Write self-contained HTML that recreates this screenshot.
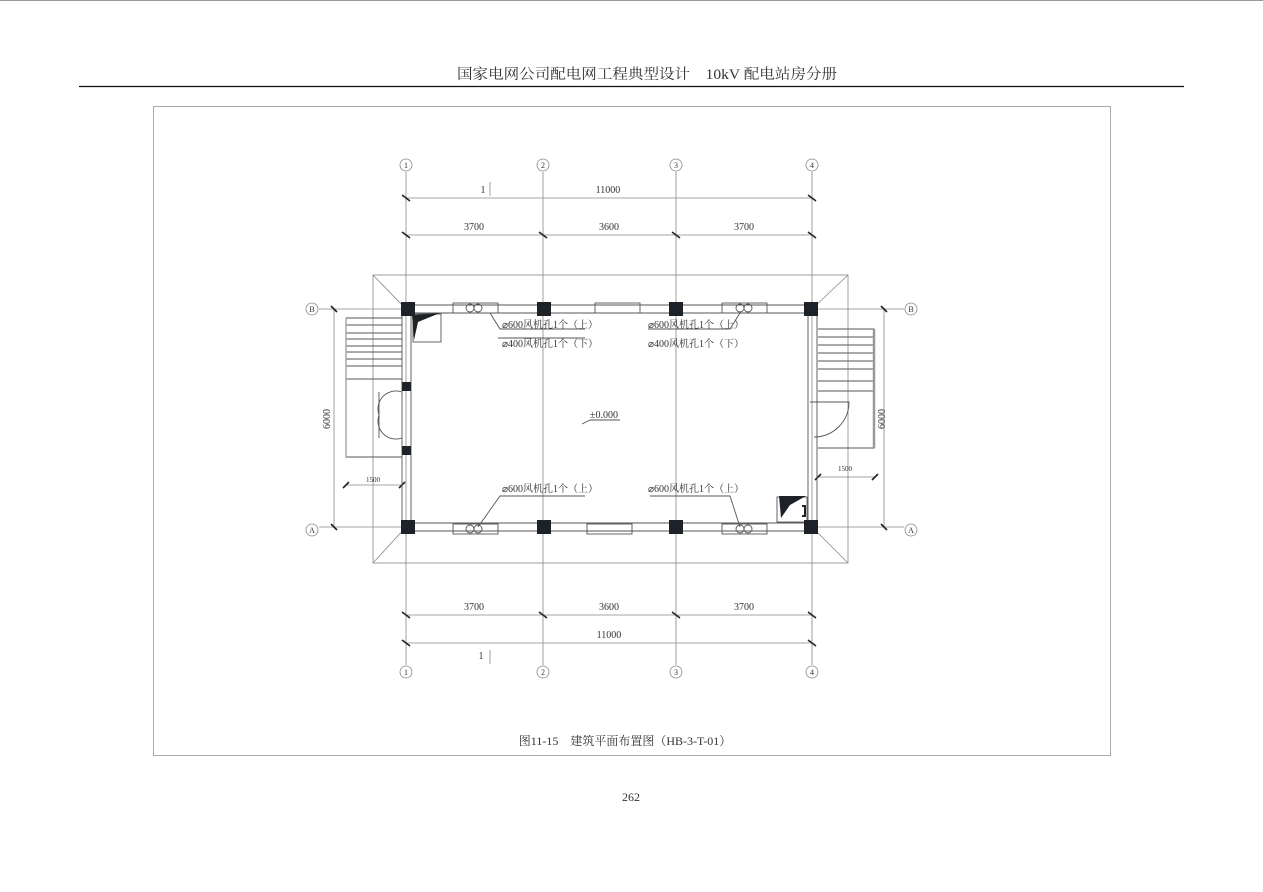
<!DOCTYPE html>
<html><head><meta charset="utf-8"><style>
html,body{margin:0;padding:0;background:#fff;}
svg{display:block;}
text{font-family:"Liberation Serif","Noto Serif CJK SC",serif;fill:#333;}
.s{font-family:"Liberation Sans Narrow","Liberation Sans","Noto Sans CJK SC",sans-serif;}
</style></head><body>
<svg width="1263" height="892" viewBox="0 0 1263 892" xmlns="http://www.w3.org/2000/svg">
<rect width="1263" height="892" fill="#fff"/>
<line x1="0" y1="0.5" x2="1263" y2="0.5" stroke="#999" stroke-width="1"/>
<text x="647" y="79" font-size="14.5" text-anchor="middle" textLength="380" lengthAdjust="spacingAndGlyphs">国家电网公司配电网工程典型设计　10kV 配电站房分册</text>
<line x1="79" y1="86.5" x2="1184" y2="86.5" stroke="#111" stroke-width="1.3"/>
<rect x="153.5" y="106.5" width="957" height="649" fill="none" stroke="#aaa" stroke-width="1"/>

<g stroke="#888" stroke-width="0.8" fill="none">
<line x1="406" y1="172" x2="406" y2="665"/>
<line x1="543" y1="172" x2="543" y2="665"/>
<line x1="676" y1="172" x2="676" y2="665"/>
<line x1="812" y1="172" x2="812" y2="665"/>
<line x1="319" y1="309" x2="402" y2="309"/>
<line x1="817" y1="309" x2="904" y2="309"/>
<line x1="319" y1="527" x2="402" y2="527"/>
<line x1="817" y1="527" x2="904" y2="527"/>
<circle cx="406" cy="165" r="6"/><circle cx="543" cy="165" r="6"/><circle cx="676" cy="165" r="6"/><circle cx="812" cy="165" r="6"/>
<circle cx="406" cy="672" r="6"/><circle cx="543" cy="672" r="6"/><circle cx="676" cy="672" r="6"/><circle cx="812" cy="672" r="6"/>
<circle cx="312" cy="309" r="6"/><circle cx="911" cy="309" r="6"/><circle cx="312" cy="530" r="6"/><circle cx="911" cy="530" r="6"/>
<line x1="406" y1="198" x2="812" y2="198"/>
<line x1="406" y1="235" x2="812" y2="235"/>
<line x1="406" y1="615" x2="812" y2="615"/>
<line x1="406" y1="643" x2="812" y2="643"/>
<polyline points="490,182 490,196"/><polyline points="490,650 490,664"/>
<rect x="373" y="275" width="475" height="288"/>
<line x1="373" y1="275" x2="406" y2="309"/><line x1="848" y1="275" x2="812" y2="309"/>
<line x1="373" y1="563" x2="406" y2="527"/><line x1="848" y1="563" x2="812" y2="527"/>
<line x1="334" y1="309" x2="334" y2="527"/>
<line x1="346" y1="485" x2="402" y2="485"/>
<line x1="884" y1="309" x2="884" y2="527"/>
<line x1="818" y1="477" x2="875" y2="477"/>
</g>
<g font-size="8" text-anchor="middle" class="s">
<text x="406" y="168">1</text><text x="543" y="168">2</text><text x="676" y="168">3</text><text x="812" y="168">4</text>
<text x="406" y="675">1</text><text x="543" y="675">2</text><text x="676" y="675">3</text><text x="812" y="675">4</text>
<text x="312" y="312">B</text><text x="911" y="312">B</text><text x="312" y="533">A</text><text x="911" y="533">A</text>
</g>
<g font-size="10" text-anchor="middle" class="s">
<text x="483" y="193">1</text><text x="608" y="193">11000</text>
<text x="474" y="230">3700</text><text x="609" y="230">3600</text><text x="744" y="230">3700</text>
<text x="474" y="610">3700</text><text x="609" y="610">3600</text><text x="744" y="610">3700</text>
<text x="609" y="638">11000</text><text x="481" y="659">1</text>
<text x="373" y="482" font-size="7">1500</text><text x="845" y="471" font-size="7">1500</text>
<text transform="translate(330,419) rotate(-90)">6000</text>
<text transform="translate(885,419) rotate(-90)">6000</text>
</g>
<g stroke="#222" stroke-width="1.6">
<line x1="402" y1="195" x2="410" y2="201"/><line x1="808" y1="195" x2="816" y2="201"/>
<line x1="402" y1="232" x2="410" y2="238"/><line x1="539" y1="232" x2="547" y2="238"/><line x1="672" y1="232" x2="680" y2="238"/><line x1="808" y1="232" x2="816" y2="238"/>
<line x1="402" y1="612" x2="410" y2="618"/><line x1="539" y1="612" x2="547" y2="618"/><line x1="672" y1="612" x2="680" y2="618"/><line x1="808" y1="612" x2="816" y2="618"/>
<line x1="402" y1="640" x2="410" y2="646"/><line x1="808" y1="640" x2="816" y2="646"/>
<line x1="331" y1="306" x2="337" y2="312"/><line x1="331" y1="524" x2="337" y2="530"/>
<line x1="881" y1="306" x2="887" y2="312"/><line x1="881" y1="524" x2="887" y2="530"/>
<line x1="343" y1="488" x2="349" y2="482"/><line x1="399" y1="488" x2="405" y2="482"/>
<line x1="815" y1="480" x2="821" y2="474"/><line x1="872" y1="480" x2="878" y2="474"/>
</g>
<g stroke="#555" stroke-width="0.9" fill="none">
<line x1="406" y1="305" x2="812" y2="305"/><line x1="406" y1="313" x2="812" y2="313"/>
<line x1="406" y1="523" x2="812" y2="523"/><line x1="406" y1="531" x2="812" y2="531"/>
<line x1="402" y1="309" x2="402" y2="527"/><line x1="411" y1="309" x2="411" y2="527"/>
<line x1="808" y1="309" x2="808" y2="527"/><line x1="817" y1="309" x2="817" y2="527"/>
<rect x="453" y="303" width="45" height="10"/><rect x="595" y="303" width="45" height="10"/><rect x="722" y="303" width="45" height="10"/>
<rect x="453" y="524" width="45" height="10"/><rect x="587" y="524" width="45" height="10"/><rect x="722" y="524" width="45" height="10"/>
<circle cx="470" cy="308" r="4"/><circle cx="478" cy="308" r="4"/><circle cx="740" cy="308" r="4"/><circle cx="748" cy="308" r="4"/>
<circle cx="470" cy="529" r="4"/><circle cx="478" cy="529" r="4"/><circle cx="740" cy="529" r="4"/><circle cx="748" cy="529" r="4"/>
<polyline points="490,313 500,329 585,329"/><polyline points="740,313 730,329 648,329"/>
<polyline points="478,527 500,496 585,496"/><polyline points="740,527 730,496 650,496"/>
<line x1="498" y1="338" x2="585" y2="338"/>
<polyline points="402,318 346,318 346,457 402,457"/>
<line x1="346" y1="325" x2="402" y2="325"/><line x1="346" y1="333" x2="402" y2="333"/><line x1="346" y1="339" x2="402" y2="339"/><line x1="346" y1="346" x2="402" y2="346"/><line x1="346" y1="352" x2="402" y2="352"/><line x1="346" y1="359" x2="402" y2="359"/><line x1="346" y1="366" x2="402" y2="366"/><line x1="346" y1="379" x2="402" y2="379"/>
<path d="M402,392 A18,18 0 0 0 379,415"/><path d="M402,438 A18,18 0 0 1 379,415"/><line x1="379" y1="392" x2="379" y2="438"/>
<polyline points="818,329 874,329 874,448 818,448"/>
<line x1="818" y1="337" x2="874" y2="337"/><line x1="818" y1="345" x2="874" y2="345"/><line x1="818" y1="353" x2="874" y2="353"/><line x1="818" y1="361" x2="874" y2="361"/><line x1="818" y1="369" x2="874" y2="369"/><line x1="818" y1="381" x2="874" y2="381"/><line x1="818" y1="391" x2="874" y2="391"/>
<path d="M810,402 L849,402 A35,35 0 0 1 814,437"/>
<rect x="413" y="314" width="28" height="28"/><rect x="777" y="497" width="30" height="25"/>
<polyline points="582,424 590,420 620,420"/>
</g>
<line x1="874" y1="329" x2="874" y2="448" stroke="#999" stroke-width="2.5"/>
<line x1="346" y1="318" x2="346" y2="457" stroke="#aaa" stroke-width="1.5"/>
<g fill="#1d2228">
<rect x="401" y="302" width="14" height="14"/><rect x="537" y="302" width="14" height="14"/><rect x="669" y="302" width="14" height="14"/><rect x="804" y="302" width="14" height="14"/>
<rect x="401" y="520" width="14" height="14"/><rect x="537" y="520" width="14" height="14"/><rect x="669" y="520" width="14" height="14"/><rect x="804" y="520" width="14" height="14"/>
<rect x="402" y="382" width="9" height="9"/><rect x="402" y="446" width="9" height="9"/>
<path d="M412,315 L440,313 L418,322 L414,340 Z"/>
<path d="M779,496 L806,496 L790,505 L781,518 Z"/>
<path d="M802,505 h4 v12 h-4 v-2 h2 v-8 h-2z"/>
</g>
<g font-size="10" class="s">
<text x="502" y="328">⌀600风机孔1个（上）</text><text x="502" y="347">⌀400风机孔1个（下）</text>
<text x="648" y="328">⌀600风机孔1个（上）</text><text x="648" y="347">⌀400风机孔1个（下）</text>
<text x="502" y="492">⌀600风机孔1个（上）</text><text x="648" y="492">⌀600风机孔1个（上）</text>
<text x="590" y="418">±0.000</text>
</g>
<text x="625" y="745" font-size="12" text-anchor="middle">图11-15　建筑平面布置图（HB-3-T-01）</text>
<text x="631" y="801" font-size="12" text-anchor="middle">262</text>
</svg>
</body></html>
